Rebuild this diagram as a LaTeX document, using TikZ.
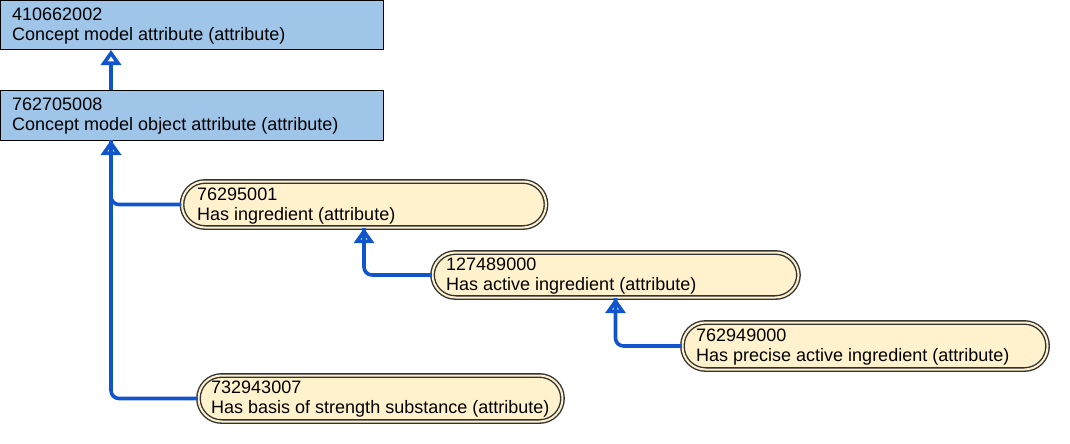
\documentclass[tikz,border=0pt]{standalone}
\usepackage{fontspec}
\setmainfont{Liberation Sans}
\usetikzlibrary{arrows.meta,calc}
\definecolor{boxblue}{HTML}{9FC5E8}
\definecolor{cream}{HTML}{FFF2CC}
\definecolor{linkblue}{HTML}{1155CC}
\definecolor{rim}{HTML}{333333}
\begin{document}
\begin{tikzpicture}[x=1pt,y=-1pt,
  bluebox/.style={draw=black,line width=1pt,fill=boxblue,rectangle,inner sep=0pt},
  pill/.style={draw=rim,line width=1.4pt,double=cream,double distance=2pt,fill=cream,
     rectangle,rounded corners=23pt,inner sep=0pt},
  lbl/.style={anchor=base west,align=left,inner sep=0pt,font=\fontsize{18}{20}\selectfont},
  link/.style={draw=linkblue,line width=3.6pt,rounded corners=8pt},
  isa/.style={draw=linkblue,line width=3.6pt,
     -{Triangle[open,length=15pt,width=20pt]}}]
\useasboundingbox (0,0) rectangle (1070,444);
% blue boxes
\node[bluebox,minimum width=383pt,minimum height=49pt] (n1) at (192,25) {};
\node[bluebox,minimum width=383pt,minimum height=50pt] (n2) at (192,115) {};
% pills
\node[pill,minimum width=364pt,minimum height=46pt] (n3) at (364,204.5) {};
\node[pill,minimum width=366pt,minimum height=45pt] (n4) at (615.5,275) {};
\node[pill,minimum width=365pt,minimum height=47pt] (n5) at (865,346) {};
\node[pill,minimum width=364pt,minimum height=46pt] (n6) at (380.5,398.5) {};
% labels (anchor = baseline of last line)
\node[lbl] (t1) at (12,40.5) {410662002\\Concept model attribute (attribute)};
\node[lbl] (t2) at (12,130.5) {762705008\\Concept model object attribute (attribute)};
\node[lbl] (t3) at (197,220.5) {76295001\\Has ingredient (attribute)};
\node[lbl] (t4) at (446,290.5) {127489000\\Has active ingredient (attribute)};
\node[lbl] (t5) at (696,361.5) {762949000\\Has precise active ingredient (attribute)};
\node[lbl] (t6) at (211,413.5) {732943007\\Has basis of strength substance (attribute)};
% connectors
\coordinate (p1) at (111,50);
\coordinate (p2) at (111,140);
\coordinate (q2) at (111,175);
\coordinate (q3) at ($(n3.south)+(0,25)$);
\coordinate (q4) at ($(n4.south)+(0,25)$);
\draw[isa] (n2.north -| p1) -- (p1);
\draw[link] (n3.west) -| (p2);
\draw[link] (n6.west) -| (p2);
\draw[isa] (q2) -- (p2);
\draw[link] (n4.west) -| (n3.south);
\draw[isa] (q3) -- (n3.south);
\draw[link] (n5.west) -| (n4.south);
\draw[isa] (q4) -- (n4.south);
\end{tikzpicture}
\end{document}
